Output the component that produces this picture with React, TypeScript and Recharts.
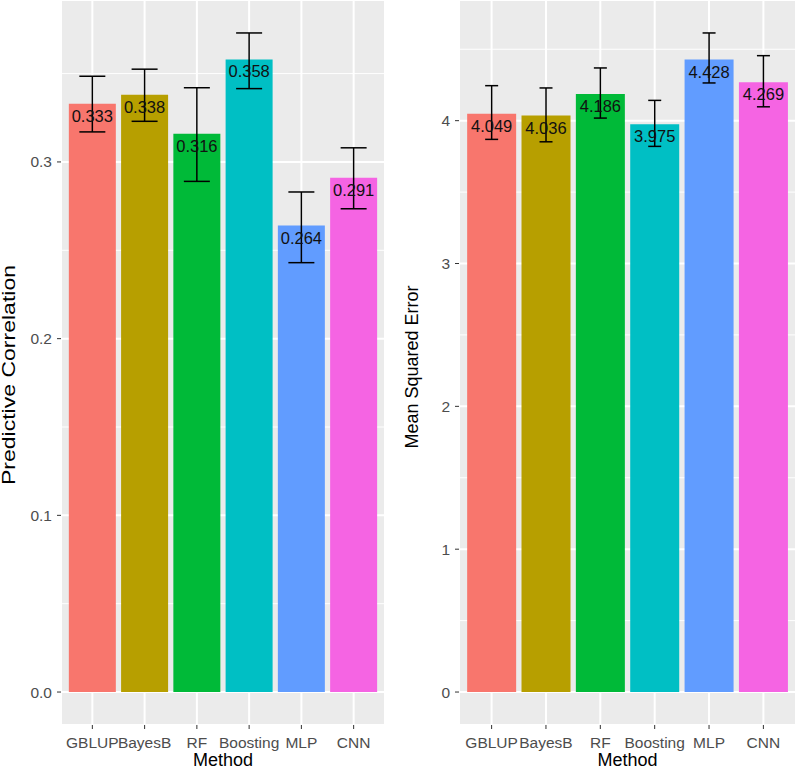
import React from 'react';
import {
  BarChart, Bar, Cell, XAxis, YAxis, CartesianGrid, ErrorBar, LabelList
} from 'recharts';

const METHODS = ['GBLUP', 'BayesB', 'RF', 'Boosting', 'MLP', 'CNN'];
const COLORS = ['#F8766D', '#B79F00', '#00BA38', '#00BFC4', '#619CFF', '#F564E3'];

const CORR = [0.333, 0.338, 0.316, 0.358, 0.264, 0.291];
const CORR_LOW = [0.317, 0.323, 0.289, 0.3415, 0.243, 0.2735];
const CORR_HIGH = [0.3485, 0.3525, 0.342, 0.373, 0.283, 0.308];
const CORR_TICKS = [0, 0.1, 0.2, 0.3];
const CORR_MINOR = [0.05, 0.15, 0.25, 0.35];

const MSE = [4.049, 4.036, 4.186, 3.975, 4.428, 4.269];
const MSE_LOW = [3.869, 3.852, 4.018, 3.82, 4.264, 4.097];
const MSE_HIGH = [4.245, 4.229, 4.369, 4.142, 4.614, 4.455];
const MSE_TICKS = [0, 1, 2, 3, 4];
const MSE_MINOR = [0.5, 1.5, 2.5, 3.5, 4.5];

const build = (vals: number[], lo: number[], hi: number[]) =>
  METHODS.map((m, i) => ({
    method: m,
    value: vals[i],
    err: [vals[i] - lo[i], hi[i] - vals[i]],
  }));

// ggplot-style 5% expansion around [0, max]
const expandDomain = (hi: number[]) => {
  const top = Math.max(...hi);
  return [-0.05 * top, top * 1.05];
};

const FONT = '"Liberation Sans", Arial, sans-serif';
const TICK = { fill: '#4D4D4D', fontSize: 15.5 };

const BarValue = (digits: number) => (props: any) => {
  const { x, y, width, value } = props;
  return (
    <text x={x + width / 2} y={y + 18} textAnchor="middle" fontSize={16.5} fill="#111">
      {Number(value).toFixed(digits)}
    </text>
  );
};

type PanelProps = {
  width: number;
  yWidth: number;
  right: number;
  data: any[];
  domain: number[];
  ticks: number[];
  minor: number[];
  fmt: (v: number) => string;
  title: string;
  titleX: number;
  titleY: number;
  titleLen?: number;
  cap: number;
  digits: number;
};

const Panel = ({
  width, yWidth, right, data, domain, ticks, minor, fmt,
  title, titleX, titleY, titleLen, cap, digits,
}: PanelProps) => {
  const plotW = width - yWidth - right;
  const pad = plotW / 62;
  const cx = yWidth + plotW / 2;
  return (
    <BarChart
      width={width}
      height={771}
      data={data}
      margin={{ top: 0, right, bottom: 0, left: 0 }}
      barCategoryGap="5%"
    >
      <CartesianGrid fill="#EBEBEB" stroke="#FFFFFF" strokeWidth={2} />
      <CartesianGrid yAxisId="minor" vertical={false} stroke="#FFFFFF" strokeWidth={1} />
      <XAxis
        dataKey="method"
        interval={0}
        padding={{ left: pad, right: pad }}
        axisLine={false}
        tickLine={{ stroke: '#333333' }}
        tickSize={4}
        tickMargin={8}
        height={46}
        tick={TICK}
        label={() => (
          <text x={cx} y={766} textAnchor="middle" fontSize={18} fill="#000">Method</text>
        )}
      />
      <YAxis
        type="number"
        domain={domain}
        allowDataOverflow
        ticks={ticks}
        tickFormatter={fmt}
        width={yWidth}
        axisLine={false}
        tickLine={{ stroke: '#333333' }}
        tickSize={4}
        tickMargin={5}
        tick={TICK}
        label={() => (
          <text
            x={titleX}
            y={titleY}
            transform={`rotate(-90 ${titleX} ${titleY})`}
            textAnchor="middle"
            fontSize={18}
            fill="#000"
            textLength={titleLen}
            lengthAdjust={titleLen ? 'spacingAndGlyphs' : undefined}
          >
            {title}
          </text>
        )}
      />
      <YAxis yAxisId="minor" hide type="number" domain={domain} allowDataOverflow ticks={minor} />
      <Bar dataKey="value" isAnimationActive={false}>
        {data.map((d, i) => (
          <Cell key={d.method} fill={COLORS[i]} />
        ))}
        <LabelList dataKey="value" content={BarValue(digits)} />
        <ErrorBar dataKey="err" direction="y" width={cap} stroke="#000" strokeWidth={1.5} />
      </Bar>
    </BarChart>
  );
};

export default function App() {
  const corrData = build(CORR, CORR_LOW, CORR_HIGH);
  const mseData = build(MSE, MSE_LOW, MSE_HIGH);
  return (
    <div style={{ position: 'absolute', left: 0, top: 0, width: 797, height: 771, background: '#fff', fontFamily: FONT }}>
      <div style={{ position: 'absolute', left: 0, top: 0 }}>
        <Panel
          width={397}
          yWidth={61}
          right={12}
          data={corrData}
          domain={expandDomain(CORR_HIGH)}
          ticks={CORR_TICKS}
          minor={CORR_MINOR}
          fmt={(v) => v.toFixed(1)}
          title="Predictive Correlation"
          titleX={15}
          titleY={375}
          titleLen={220}
          cap={13}
          digits={3}
        />
      </div>
      <div style={{ position: 'absolute', left: 397, top: 0 }}>
        <Panel
          width={400}
          yWidth={62}
          right={1}
          data={mseData}
          domain={expandDomain(MSE_HIGH)}
          ticks={MSE_TICKS}
          minor={MSE_MINOR}
          fmt={(v) => String(v)}
          title="Mean Squared Error"
          titleX={21}
          titleY={367}
          cap={6.5}
          digits={3}
        />
      </div>
    </div>
  );
}
